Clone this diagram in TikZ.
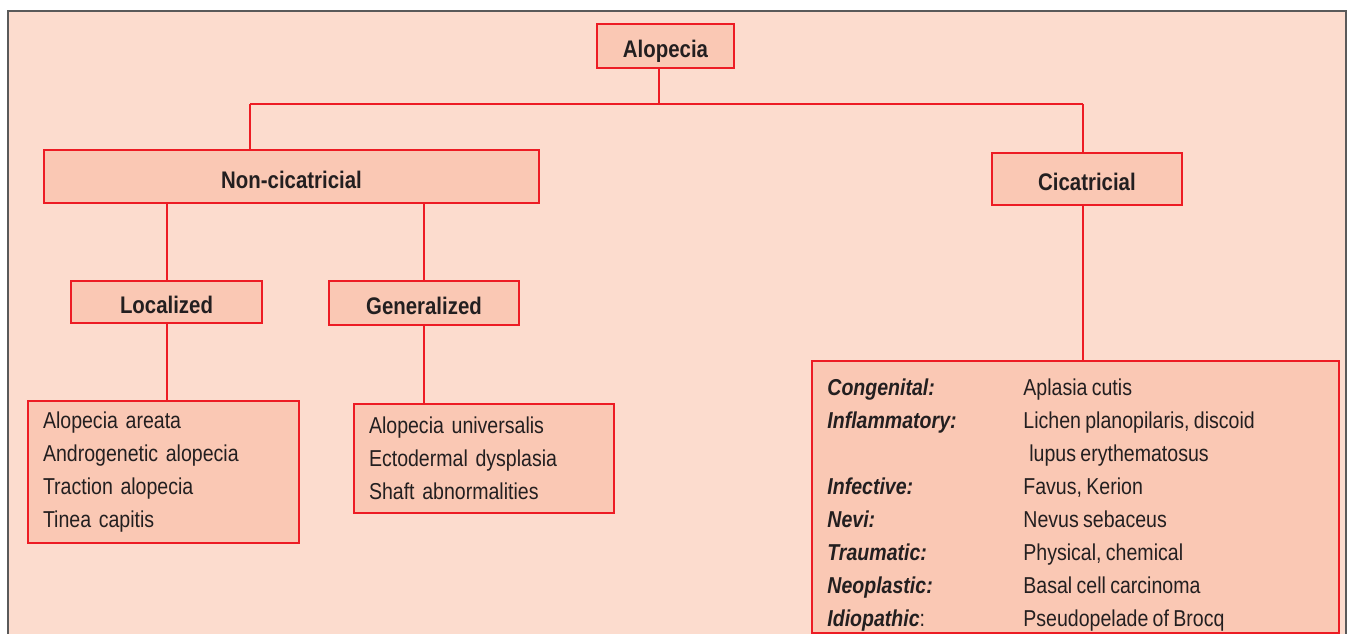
\documentclass[tikz,border=0pt]{standalone}
\usepackage{fontspec}
\setmainfont[FakeStretch=0.85, WordSpace=0.8]{Liberation Sans}
\usetikzlibrary{positioning}

\definecolor{pagebg}{HTML}{FCDCCE}
\definecolor{boxfill}{HTML}{FAC8B4}
\definecolor{linkred}{HTML}{ED1C24}
\definecolor{ink}{HTML}{231F20}
\definecolor{framegray}{HTML}{5A5A5A}

\newcommand{\cattag}[1]{\textbf{\textit{#1}}}

\begin{document}
\begin{tikzpicture}[
  x=0.5pt, y=-0.5pt,
  head/.style={draw=linkred, line width=1pt, fill=boxfill, inner sep=0pt,
               text height=11.6pt, text depth=0pt,
               font=\fontsize{12}{14}\selectfont\bfseries, text=ink},
  listbox/.style={draw=linkred, line width=1pt, fill=boxfill, inner ysep=0pt,
                  inner xsep=7.5pt, align=left, anchor=north west,
                  font=\fontsize{11.5}{16.5}\selectfont, text=ink},
  link/.style={draw=linkred, line width=1pt}
]
  \useasboundingbox (0,0) rectangle (1351,633);
  \fill[pagebg] (7.5,11) rectangle (1346,645);
  \draw[framegray, line width=1pt] (7.5,645) -- (7.5,11) -- (1346,11) -- (1346,645);

  \node[head, minimum width=68.5pt, minimum height=22pt] (alop) at (665.5,46) {Alopecia};
  \node[head, minimum width=247.5pt, minimum height=26.5pt] (noncic) at (291.5,176.5) {Non-cicatricial};
  \node[head, minimum width=95pt, minimum height=26pt] (cic) at (1087,179) {Cicatricial};
  \node[head, minimum width=95.5pt, minimum height=21pt] (loc) at (166.5,302) {Localized};
  \node[head, minimum width=95pt, minimum height=22pt] (gen) at (424,303) {Generalized};

  \node[listbox, text width=120.5pt, minimum height=71pt] (loclist) at (27,400)
    {Alopecia areata\\ Androgenetic alopecia\\ Traction alopecia\\ Tinea capitis};
  \node[listbox, text width=115pt, minimum height=54.5pt] (genlist) at (353,403)
    {Alopecia universalis\\ Ectodermal dysplasia\\ Shaft abnormalities};
  \node[listbox, inner sep=0pt, minimum width=263.5pt, minimum height=136pt] (ciclist) at (811,360) {};
  \node[anchor=north west, inner sep=0pt, text=ink,
        font=\fontsize{11.5}{16.5}\selectfont] (cictxt) at (827,372) {%
    \begin{tabular}{@{}p{98pt}@{}l@{}}
      \cattag{Congenital:}   & Aplasia cutis\\
      \cattag{Inflammatory:} & Lichen planopilaris, discoid\\
                             & \hspace{3pt}lupus erythematosus\\
      \cattag{Infective:}    & Favus, Kerion\\
      \cattag{Nevi:}         & Nevus sebaceus\\
      \cattag{Traumatic:}    & Physical, chemical\\
      \cattag{Neoplastic:}   & Basal cell carcinoma\\
      \cattag{Idiopathic}:   & Pseudopelade of Brocq
    \end{tabular}};

  % tree connectors
  \coordinate (busL) at (250,104);
  \coordinate (busM) at (659,104);
  \coordinate (busR) at (1083,104);
  \draw[link] (alop.south -| busM) -- (busM);
  \draw[link] (busL) -- (busR);
  \draw[link] (busL) -- (noncic.north -| busL);
  \draw[link] (busR) -- (cic.north -| busR);
  \draw[link] (noncic.south -| loc) -- (loc.north);
  \draw[link] (noncic.south -| gen) -- (gen.north);
  \draw[link] (loc.south) -- (loclist.north -| loc);
  \draw[link] (gen.south) -- (genlist.north -| gen);
  \draw[link] (cic.south -| busR) -- (ciclist.north -| busR);
\end{tikzpicture}
\end{document}
